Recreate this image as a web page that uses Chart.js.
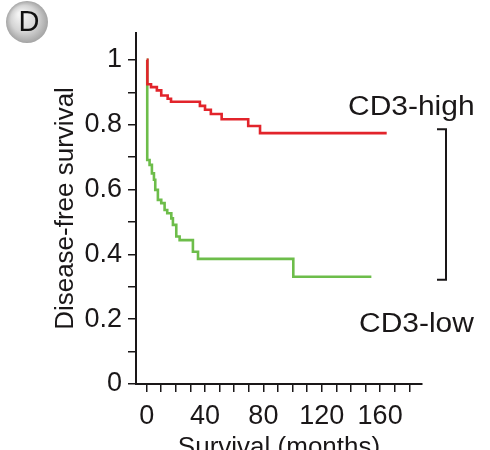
<!DOCTYPE html>
<html><head><meta charset="utf-8">
<script src="https://cdn.jsdelivr.net/npm/chart.js@4"></script>
<style>html,body{margin:0;padding:0;background:#fff}#wrap{width:490px;height:450px}</style>
</head><body><div id="wrap"><canvas id="c" width="490" height="450"></canvas></div>
<script>
// Kaplan-Meier step data (time in months, survival fraction)
const highTimes = [0, 0.5, 3, 7, 10, 14.4, 16.7, 36.5, 40, 44, 51.4, 69.6, 77.7, 164.5];
const highSurv  = [1, 0.925, 0.916, 0.906, 0.89, 0.88, 0.871, 0.858, 0.846, 0.833, 0.817, 0.796, 0.774, 0.774];
const lowTimes  = [0, 0.4, 2, 3.6, 5, 5.9, 7.7, 10, 12.3, 14.1, 16.9, 18, 20.3, 22.6, 31.7, 35.2, 100.5, 154];
const lowSurv   = [1, 0.691, 0.676, 0.65, 0.63, 0.599, 0.568, 0.558, 0.537, 0.527, 0.511, 0.491, 0.455, 0.444, 0.408, 0.386, 0.331, 0.331];
const groupLabels = ['CD3-high', 'CD3-low'];
const xTicks  = [0,10,20,30,40,50,60,70,80,90,100,110,120,130,140,150,160,170,180];
const xLabels = [0,40,80,120,160];
const yTicks  = [0,0.1,0.2,0.3,0.4,0.5,0.6,0.7,0.8,0.9,1];
const yLabels = [0,0.2,0.4,0.6,0.8,1];
const panelLetter = 'D';

const FAMILY = "'Liberation Sans', Arial, Helvetica, sans-serif";
const INK = '#1a1718';
const toPts = (t, s) => t.map((v, i) => ({x: v, y: s[i]}));

const annot = {
  id: 'annot',
  afterDraw(chart) {
    const ctx = chart.ctx;
    const ys = chart.scales.y;
    ctx.save();
    ctx.fillStyle = INK;
    ctx.font = '27px ' + FAMILY;
    ctx.textBaseline = 'alphabetic';
    ctx.textAlign = 'left';
    [[groupLabels[0], 348, 114.5], [groupLabels[1], 359, 332]].forEach(([t, x, y]) => {
      ctx.save(); ctx.translate(x, y); ctx.scale(1.11, 1); ctx.fillText(t, 0, 0); ctx.restore();
    });
    const yTop = ys.getPixelForValue(highSurv[highSurv.length - 1]) - 4;
    const yBot = ys.getPixelForValue(lowSurv[lowSurv.length - 1]) + 3;
    ctx.strokeStyle = INK; ctx.lineWidth = 2;
    ctx.beginPath();
    ctx.moveTo(437, yTop); ctx.lineTo(446, yTop); ctx.lineTo(446, yBot); ctx.lineTo(437, yBot);
    ctx.stroke();
    const cx = 27, cy = 22, r = 21;
    const g = ctx.createRadialGradient(cx - 7, cy - 8, 2, cx, cy, r);
    g.addColorStop(0, '#f4f4f4'); g.addColorStop(0.6, '#d4d4d4'); g.addColorStop(1, '#a4a4a4');
    ctx.fillStyle = g;
    ctx.beginPath(); ctx.arc(cx, cy, r, 0, Math.PI * 2); ctx.fill();
    ctx.fillStyle = '#111';
    ctx.font = '29px ' + FAMILY;
    ctx.textAlign = 'center'; ctx.textBaseline = 'middle';
    ctx.fillText(panelLetter, cx + 2, cy + 1);
    ctx.restore();
  }
};

new Chart(document.getElementById('c'), {
  type: 'line',
  data: {
    datasets: [
      {label: groupLabels[0], data: toPts(highTimes, highSurv), borderColor: '#e2242b', borderWidth: 2.6, stepped: 'before', pointRadius: 0, fill: false},
      {label: groupLabels[1], data: toPts(lowTimes, lowSurv), borderColor: '#6dbd4a', borderWidth: 2.6, stepped: 'before', pointRadius: 0, fill: false}
    ]
  },
  options: {
    responsive: false, animation: false, devicePixelRatio: 1,
    layout: {padding: {top: 33, right: 68, bottom: 0, left: 0}},
    plugins: {legend: {display: false}, tooltip: {enabled: false}},
    scales: {
      x: {
        type: 'linear', min: -7.3, max: 188.7,
        afterBuildTicks: s => { s.ticks = xTicks.map(v => ({value: v})); },
        afterFit: s => { s.height = 66; },
        ticks: {autoSkip: false, maxRotation: 0, padding: 8, color: INK, font: {family: FAMILY, size: 27},
                callback: v => xLabels.includes(v) ? String(v) : ''},
        grid: {drawOnChartArea: false, drawTicks: true, tickLength: 8, color: INK, lineWidth: 1.5},
        border: {display: true, color: INK, width: 2},
        title: {display: true, text: 'Survival (months)', color: INK, font: {family: FAMILY, size: 26}, padding: {top: 0, bottom: -13}}
      },
      y: {
        type: 'linear', min: 0, max: 1.083,
        afterBuildTicks: s => { s.ticks = yTicks.map(v => ({value: v})); },
        afterFit: s => { s.width = 136; },
        ticks: {autoSkip: false, padding: 6, color: INK, font: {family: FAMILY, size: 27},
                callback: v => yLabels.includes(v) ? String(v) : ''},
        grid: {drawOnChartArea: false, drawTicks: true, tickLength: 8, color: INK, lineWidth: 1.5},
        border: {display: true, color: INK, width: 2},
        title: {display: true, text: 'Disease-free survival', color: INK, font: {family: FAMILY, size: 26}, padding: {top: 50, bottom: 0}}
      }
    }
  },
  plugins: [annot]
});
</script>
</body></html>
